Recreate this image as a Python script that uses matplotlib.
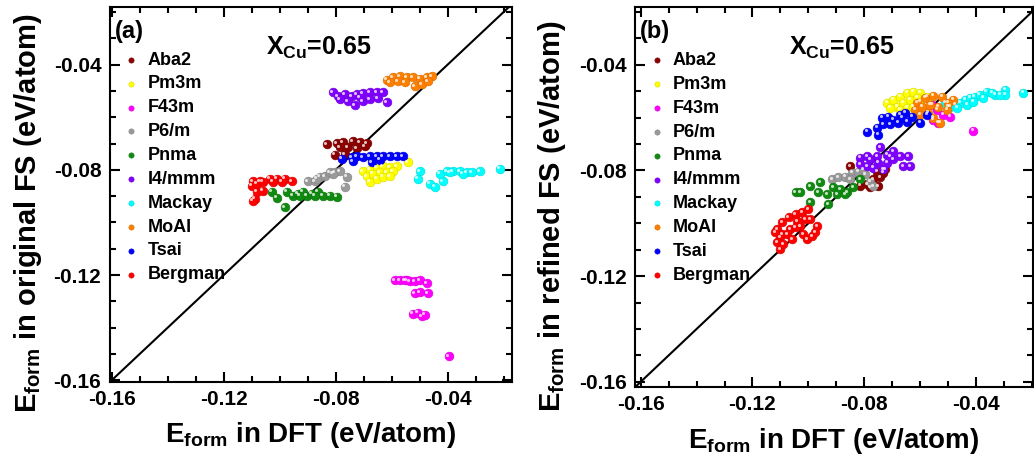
import matplotlib
matplotlib.use("Agg")
import matplotlib.pyplot as plt
from matplotlib.ticker import MultipleLocator, FormatStrFormatter
from matplotlib.transforms import offset_copy
import matplotlib.colors as mcolors

plt.rcParams['font.family'] = ['Liberation Sans', 'DejaVu Sans']
plt.rcParams['font.weight'] = 'bold'
plt.rcParams['mathtext.fontset'] = 'custom'
plt.rcParams['mathtext.rm'] = 'Liberation Sans:bold'
plt.rcParams['mathtext.bf'] = 'Liberation Sans:bold'
plt.rcParams['mathtext.it'] = 'Liberation Sans:bold'

structures = ["Aba2", "Pm3m", "F43m", "P6/m", "Pnma", "I4/mmm", "Mackay", "MoAl", "Tsai", "Bergman"]
colors = ["#8B0000", "#FFFF00", "#FF00FF", "#9A9A9A", "#108A10", "#7F00FF", "#00FFFF", "#FF8000", "#0000FF", "#FF0000"]

# ---------------- Panel (a): original FS ----------------
a_aba2_x = [-0.0832, -0.0796, -0.0775, -0.0739, -0.0714, -0.0689, -0.0786, -0.0757, -0.0725, -0.0804, -0.0768, -0.0696]
a_aba2_y = [-0.0702, -0.0698, -0.0694, -0.0691, -0.0694, -0.0698, -0.0713, -0.0713, -0.0717, -0.0743, -0.0740, -0.0709]
a_pm3m_x = [-0.0704, -0.0679, -0.0654, -0.0632, -0.0607, -0.0582, -0.0543, -0.0689, -0.0668, -0.0643, -0.0618, -0.0596, -0.0679, -0.0654, -0.0632, -0.0607]
a_pm3m_y = [-0.0804, -0.0800, -0.0789, -0.0785, -0.0789, -0.0785, -0.0770, -0.0823, -0.0815, -0.0808, -0.0808, -0.0804, -0.0845, -0.0834, -0.0826, -0.0823]
a_f43m_x = [-0.0589, -0.0571, -0.0554, -0.0536, -0.0518, -0.0500, -0.0475, -0.0546, -0.0518, -0.0500, -0.0471, -0.0525, -0.0507, -0.0493, -0.0482, -0.0396]
a_f43m_y = [-0.1219, -0.1219, -0.1219, -0.1223, -0.1223, -0.1219, -0.1230, -0.1219, -0.1268, -0.1264, -0.1268, -0.1347, -0.1343, -0.1355, -0.1351, -0.1509]
a_p6m_x = [-0.0900, -0.0875, -0.0857, -0.0839, -0.0821, -0.0804, -0.0786, -0.0761, -0.0768, -0.0868, -0.0811]
a_p6m_y = [-0.0842, -0.0842, -0.0826, -0.0823, -0.0808, -0.0808, -0.0804, -0.0826, -0.0864, -0.0834, -0.0815]
a_pnma_x = [-0.1029, -0.1011, -0.0975, -0.0954, -0.0936, -0.0918, -0.0904, -0.0886, -0.0864, -0.0846, -0.0821, -0.0796, -0.0982, -0.0929, -0.0875]
a_pnma_y = [-0.0883, -0.0906, -0.0883, -0.0898, -0.0891, -0.0883, -0.0898, -0.0891, -0.0883, -0.0898, -0.0898, -0.0902, -0.0943, -0.0898, -0.0898]
a_i4_x = [-0.0811, -0.0793, -0.0768, -0.0743, -0.0725, -0.0704, -0.0679, -0.0654, -0.0632, -0.0786, -0.0757, -0.0732, -0.0704, -0.0679, -0.0650, -0.0618, -0.0714]
a_i4_y = [-0.0506, -0.0521, -0.0513, -0.0521, -0.0513, -0.0509, -0.0506, -0.0506, -0.0506, -0.0532, -0.0540, -0.0555, -0.0540, -0.0532, -0.0528, -0.0543, -0.0525]
a_mackay_x = [-0.0500, -0.0507, -0.0464, -0.0446, -0.0418, -0.0429, -0.0404, -0.0382, -0.0357, -0.0332, -0.0314, -0.0286, -0.0214, -0.0393, -0.0346]
a_mackay_y = [-0.0804, -0.0834, -0.0853, -0.0864, -0.0842, -0.0815, -0.0804, -0.0804, -0.0804, -0.0808, -0.0808, -0.0804, -0.0796, -0.0808, -0.0815]
a_moal_x = [-0.0618, -0.0596, -0.0571, -0.0546, -0.0525, -0.0500, -0.0475, -0.0457, -0.0607, -0.0579, -0.0554, -0.0518, -0.0493, -0.0471]
a_moal_y = [-0.0457, -0.0449, -0.0445, -0.0449, -0.0449, -0.0453, -0.0449, -0.0445, -0.0468, -0.0464, -0.0468, -0.0483, -0.0475, -0.0464]
a_tsai_x = [-0.0779, -0.0743, -0.0725, -0.0704, -0.0679, -0.0654, -0.0632, -0.0607, -0.0582, -0.0561, -0.0739, -0.0671, -0.0643]
a_tsai_y = [-0.0758, -0.0751, -0.0747, -0.0751, -0.0747, -0.0747, -0.0747, -0.0747, -0.0747, -0.0747, -0.0766, -0.0770, -0.0762]
a_berg_x = [-0.1096, -0.1071, -0.1036, -0.1011, -0.0982, -0.0957, -0.1100, -0.1082, -0.1061, -0.1025, -0.0993, -0.1082, -0.1061, -0.1089, -0.1096]
a_berg_y = [-0.0842, -0.0842, -0.0834, -0.0834, -0.0834, -0.0842, -0.0860, -0.0853, -0.0845, -0.0845, -0.0845, -0.0883, -0.0879, -0.0909, -0.0917]

# ---------------- Panel (b): refined FS ----------------
b_aba2_x = [-0.0850, -0.0814, -0.0789, -0.0768, -0.0750, -0.0732, -0.0754, -0.0779, -0.0725, -0.0743]
b_aba2_y = [-0.0785, -0.0857, -0.0853, -0.0834, -0.0860, -0.0808, -0.0804, -0.0864, -0.0796, -0.0826]
b_pm3m_x = [-0.0718, -0.0696, -0.0671, -0.0646, -0.0625, -0.0600, -0.0575, -0.0682, -0.0661, -0.0636, -0.0611, -0.0671, -0.0646, -0.0625, -0.0707, -0.0600]
b_pm3m_y = [-0.0543, -0.0532, -0.0521, -0.0506, -0.0502, -0.0506, -0.0521, -0.0558, -0.0543, -0.0532, -0.0525, -0.0570, -0.0562, -0.0558, -0.0562, -0.0540]
b_f43m_x = [-0.0557, -0.0539, -0.0518, -0.0493, -0.0536, -0.0411, -0.0500, -0.0554]
b_f43m_y = [-0.0551, -0.0570, -0.0589, -0.0596, -0.0619, -0.0649, -0.0558, -0.0608]
b_p6m_x = [-0.0914, -0.0893, -0.0868, -0.0843, -0.0821, -0.0796, -0.0779, -0.0768, -0.0850, -0.0804]
b_p6m_y = [-0.0834, -0.0826, -0.0823, -0.0808, -0.0804, -0.0815, -0.0842, -0.0860, -0.0834, -0.0796]
b_pnma_x = [-0.1046, -0.1029, -0.0993, -0.0957, -0.0964, -0.0932, -0.0911, -0.0886, -0.0861, -0.0839, -0.0814, -0.0993, -0.0929, -0.0896, -0.0868]
b_pnma_y = [-0.0883, -0.0883, -0.0860, -0.0845, -0.0883, -0.0891, -0.0864, -0.0872, -0.0883, -0.0864, -0.0834, -0.0921, -0.0928, -0.0891, -0.0891]
b_i4_x = [-0.0814, -0.0789, -0.0814, -0.0779, -0.0754, -0.0743, -0.0718, -0.0696, -0.0671, -0.0643, -0.0750, -0.0718, -0.0696, -0.0661, -0.0636, -0.0789, -0.0732, -0.0768, -0.0707]
b_i4_y = [-0.0751, -0.0747, -0.0777, -0.0758, -0.0747, -0.0713, -0.0740, -0.0728, -0.0747, -0.0747, -0.0770, -0.0770, -0.0758, -0.0785, -0.0785, -0.0785, -0.0796, -0.0789, -0.0747]
b_mackay_x = [-0.0511, -0.0493, -0.0475, -0.0457, -0.0439, -0.0421, -0.0404, -0.0386, -0.0361, -0.0332, -0.0296, -0.0296, -0.0232, -0.0468, -0.0432, -0.0411, -0.0375, -0.0343, -0.0314]
b_mackay_y = [-0.0543, -0.0558, -0.0551, -0.0543, -0.0532, -0.0525, -0.0521, -0.0513, -0.0502, -0.0513, -0.0494, -0.0513, -0.0506, -0.0562, -0.0551, -0.0540, -0.0525, -0.0506, -0.0513]
b_moal_x = [-0.0611, -0.0582, -0.0554, -0.0521, -0.0482, -0.0618, -0.0593, -0.0564, -0.0536, -0.0504, -0.0600, -0.0571, -0.0554, -0.0529, -0.0500]
b_moal_y = [-0.0543, -0.0525, -0.0517, -0.0521, -0.0532, -0.0570, -0.0558, -0.0551, -0.0558, -0.0570, -0.0589, -0.0581, -0.0600, -0.0619, -0.0543]
b_tsai_x = [-0.0789, -0.0754, -0.0750, -0.0736, -0.0714, -0.0696, -0.0671, -0.0654, -0.0629, -0.0646, -0.0679, -0.0707, -0.0732, -0.0600, -0.0575, -0.0664]
b_tsai_y = [-0.0653, -0.0638, -0.0664, -0.0600, -0.0596, -0.0608, -0.0589, -0.0581, -0.0596, -0.0615, -0.0619, -0.0626, -0.0626, -0.0619, -0.0589, -0.0600]
b_berg_x = [-0.1111, -0.1093, -0.1071, -0.1046, -0.1021, -0.1000, -0.0993, -0.0968, -0.1029, -0.1064, -0.1093, -0.1018, -0.1039, -0.1118, -0.1100, -0.1111, -0.1100, -0.1075, -0.1057, -0.1004, -0.0986, -0.0975, -0.1089, -0.1046, -0.1011]
b_berg_y = [-0.1023, -0.0996, -0.0977, -0.0966, -0.0958, -0.0947, -0.0985, -0.1011, -0.1011, -0.1023, -0.1042, -0.1042, -0.0992, -0.1034, -0.1053, -0.1072, -0.1098, -0.1042, -0.1060, -0.1060, -0.1049, -0.1034, -0.1079, -0.1015, -0.0985]

panel_a = [(a_aba2_x, a_aba2_y), (a_pm3m_x, a_pm3m_y), (a_f43m_x, a_f43m_y), (a_p6m_x, a_p6m_y),
           (a_pnma_x, a_pnma_y), (a_i4_x, a_i4_y), (a_mackay_x, a_mackay_y), (a_moal_x, a_moal_y),
           (a_tsai_x, a_tsai_y), (a_berg_x, a_berg_y)]
panel_b = [(b_aba2_x, b_aba2_y), (b_pm3m_x, b_pm3m_y), (b_f43m_x, b_f43m_y), (b_p6m_x, b_p6m_y),
           (b_pnma_x, b_pnma_y), (b_i4_x, b_i4_y), (b_mackay_x, b_mackay_y), (b_moal_x, b_moal_y),
           (b_tsai_x, b_tsai_y), (b_berg_x, b_berg_y)]

x_ticks = [-0.16, -0.12, -0.08, -0.04]
y_ticks = [-0.16, -0.12, -0.08, -0.04]

fig = plt.figure(figsize=(10.34, 4.63), dpi=100)
ax_a = fig.add_axes([0.106, 0.175, 0.389, 0.810])
ax_b = fig.add_axes([0.614, 0.164, 0.385, 0.821])


def darker(c, f=0.7):
    r, g, b = mcolors.to_rgb(c)
    return (r * f, g * f, b * f)


def draw(ax, data, xlim, ylim, ylabel, tag, ylab_x):
    ax.plot([-0.17, -0.01], [-0.17, -0.01], color='black', lw=1.5, zorder=1)
    hl = offset_copy(ax.transData, fig=fig, x=-1.0, y=1.0, units='points')
    for (xs, ys), name, col in zip(data, structures, colors):
        ax.scatter(xs, ys, s=40, color=col, edgecolors=[darker(col, 0.85)], linewidths=0.4,
                   zorder=3, label=name)
        ax.scatter(xs, ys, s=5, color='white', alpha=0.75, linewidths=0, zorder=4,
                   transform=hl, label='_nolegend_')
    ax.set_xlim(*xlim)
    ax.set_ylim(*ylim)
    ax.set_xticks(x_ticks)
    ax.set_yticks(y_ticks)
    ax.xaxis.set_minor_locator(MultipleLocator(0.01))
    ax.yaxis.set_minor_locator(MultipleLocator(0.01))
    ax.xaxis.set_major_formatter(FormatStrFormatter('%.2f'))
    ax.yaxis.set_major_formatter(FormatStrFormatter('%.2f'))
    ax.tick_params(which='both', direction='in', top=True, right=True, width=1.5, labelsize=15, pad=6)
    ax.tick_params(which='major', length=7)
    ax.tick_params(which='minor', length=4)
    for lab in ax.get_xticklabels() + ax.get_yticklabels():
        lab.set_fontweight('bold')
    for sp in ax.spines.values():
        sp.set_linewidth(1.5)
    ax.set_xlabel(r'E$_{\mathrm{form}}$ in DFT (eV/atom)', fontsize=20, fontweight='bold', labelpad=8)
    ax.set_ylabel(r'E$_{\mathrm{form}}$ in ' + ylabel + ' (eV/atom)', fontsize=21, fontweight='bold')
    ax.yaxis.set_label_coords(ylab_x, 0.45)
    ax.text(0.012, 0.965, tag, transform=ax.transAxes, fontsize=17, fontweight='bold', va='top', ha='left')
    ax.text(0.52, 0.892, r'X$_{\mathrm{Cu}}$=0.65', transform=ax.transAxes, fontsize=18,
            fontweight='bold', va='center', ha='center')
    ax.legend(loc='upper left', bbox_to_anchor=(0.0, 0.91), frameon=False,
              labelspacing=0.38, handletextpad=0.3, markerscale=0.6, borderaxespad=0.2,
              handlelength=1.2, prop={'weight': 'bold', 'size': 13})


draw(ax_a, panel_a, (-0.1607, -0.0171), (-0.1606, -0.0181), 'original FS', '(a)', -0.163)
draw(ax_b, panel_b, (-0.1621, -0.0196), (-0.1620, -0.0181), 'refined FS', '(b)', -0.167)

fig.savefig('out.png', dpi=100)
